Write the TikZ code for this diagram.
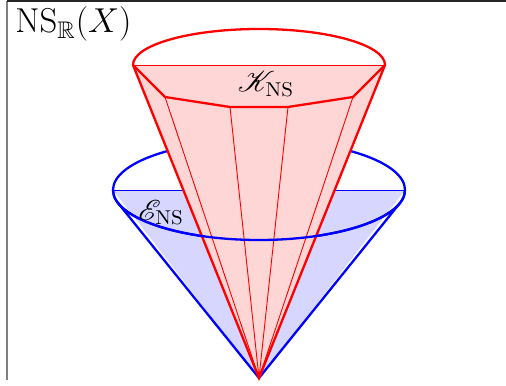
\documentclass[tikz,border=0pt]{standalone}
\usepackage{amssymb}
\usepackage{mathrsfs}
\begin{document}
\begin{tikzpicture}[x=0.5pt,y=0.5pt,
  lbl/.style={xscale=1.05,transform shape,inner sep=0pt,font=\Large},
  gr/.style={line width=1.15pt},
  fino/.style={line width=0.45pt}]
  \useasboundingbox (0,0) rectangle (506,385);
  \draw[gray,line width=1pt] (7,5) -- (7,384);
  \draw[black!85,line width=1.2pt] (7,384) -- (506,384);
  \coordinate (o)  at (259,7);
  \coordinate (e)  at (259,195);
  \coordinate (el) at (113,195); \coordinate (er) at (405,195);
  \coordinate (tl) at (118.3,181.7); \coordinate (tr) at (399.7,181.7);
  \coordinate (kl) at (133,320); \coordinate (kr) at (385,320);
  \coordinate (k1) at (165,288); \coordinate (k2) at (230,278);
  \coordinate (k3) at (288,278); \coordinate (k4) at (353,288);
  % cono azul, luego el rojo encima y el borde delantero de la elipse
  \fill[blue!16] (el) -- (er) -- (o) -- cycle;
  \draw[blue,fino] (el) -- (er);
  \draw[blue,gr] (e) ellipse [x radius=146,y radius=50];
  \draw[blue,gr] (tl) -- (o) -- (tr);
  \fill[red!16] (kl) -- (kr) -- (o) -- cycle;
  \draw[red,fino] (kl) -- (kr);
  \draw[red,fino] (k1) -- (o) (k2) -- (o) (k3) -- (o) (k4) -- (o);
  \draw[red,gr,line join=round] (kl) -- (k1) -- (k2) -- (k3) -- (k4) -- (kr);
  \draw[red,gr] (kl) -- (o) -- (kr);
  \draw[red,gr] (kr) arc [start angle=0,end angle=180,x radius=126,y radius=36];
  \draw[blue,gr] (el) arc [start angle=180,end angle=360,x radius=146,y radius=50];
  \node[lbl,xscale=0.96,anchor=base west,font=\LARGE] (ns) at (15,352) {$\mathrm{NS}_{\mathbb{R}}(X)$};
  \node[lbl,anchor=base] (kns) at (266,293) {$\mathscr{K}_{\mathrm{NS}}$};
  \node[lbl,anchor=base] (ens) at (161,165) {$\mathscr{E}_{\mathrm{NS}}$};
\end{tikzpicture}
\end{document}
